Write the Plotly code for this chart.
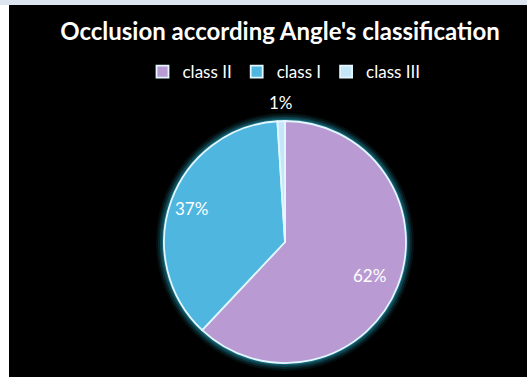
import math
import plotly.graph_objects as go

# Occlusion classes (Angle's classification) and their shares
classes = ["class II", "class I", "class III"]
shares = [62, 37, 1]
colors = ["#b99ad2", "#4fb6e0", "#c4e6f7"]
label_radius = [0.75, 0.82, 1.15]  # label distance from centre, in pie radii

W, H = 527, 377
cx, cy, r = 285, 242, 121  # pie centre / radius in pixels


def px_x(v):
    return v / W


def px_y(v):
    return 1 - v / H


fig = go.Figure()

fig.add_trace(go.Pie(
    labels=classes,
    values=shares,
    sort=False,
    direction="clockwise",
    rotation=0,
    marker=dict(colors=colors, line=dict(color="#e2f7ff", width=1.8)),
    textinfo="none",
    domain=dict(x=[px_x(cx - r), px_x(cx + r)], y=[px_y(cy + r), px_y(cy - r)]),
    hoverinfo="label+percent",
))

# percentage labels placed along each slice's mid-angle
total = sum(shares)
annotations = []
start = 0.0
for val, k in zip(shares, label_radius):
    mid = (start + val / 2) / total * 2 * math.pi  # clockwise from 12 o'clock
    start += val
    lx = cx + k * r * math.sin(mid)
    ly = cy - k * r * math.cos(mid)
    annotations.append(dict(text=f"{round(val / total * 100)}%", x=px_x(lx), y=px_y(ly),
                            xref="paper", yref="paper", showarrow=False,
                            xanchor="center", yanchor="middle",
                            font=dict(color="white", size=17, family="Lato")))

shapes = []
# frame strips
shapes.append(dict(type="rect", xref="paper", yref="paper", x0=0, x1=1, y0=px_y(5), y1=1,
                   fillcolor="#dde6f0", line=dict(width=0), layer="below"))
shapes.append(dict(type="rect", xref="paper", yref="paper", x0=0, x1=px_x(9), y0=0, y1=px_y(5),
                   fillcolor="#ffffff", line=dict(width=0), layer="below"))
# soft teal glow around the pie
for dr, op in [(8, 0.10), (6, 0.18), (4, 0.30), (2, 0.5)]:
    shapes.append(dict(type="circle", xref="paper", yref="paper",
                       x0=px_x(cx - r - dr), x1=px_x(cx + r + dr),
                       y0=px_y(cy + r + dr), y1=px_y(cy - r - dr),
                       fillcolor="#1f8fa6", opacity=op, line=dict(width=0), layer="below"))

fig.update_layout(
    width=W, height=H,
    margin=dict(l=0, r=0, t=0, b=0),
    paper_bgcolor="#000000",
    plot_bgcolor="#000000",
    shapes=shapes,
    annotations=annotations,
    title=dict(text="<b>Occlusion according Angle's classification</b>",
               x=px_x(280), xanchor="center", y=px_y(32), yanchor="middle",
               font=dict(color="white", size=24, family="Lato")),
    showlegend=True,
    legend=dict(orientation="h", x=px_x(284), xanchor="center", y=px_y(72), yanchor="middle",
                font=dict(color="white", size=17, family="Lato"),
                bgcolor="rgba(0,0,0,0)", itemwidth=30, traceorder="normal"),
)

fig.write_html("out.html")
